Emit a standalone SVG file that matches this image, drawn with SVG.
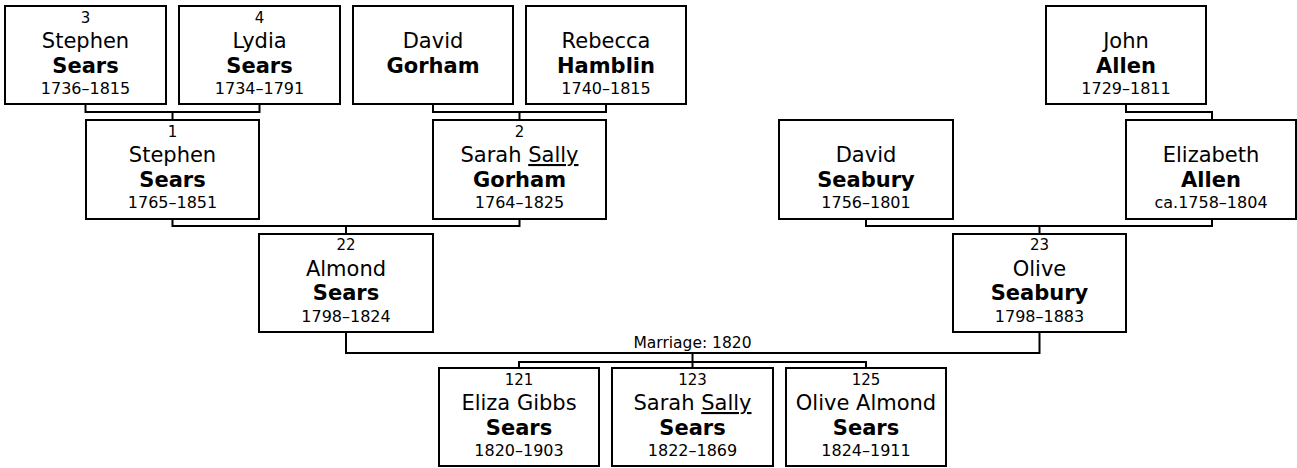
<svg xmlns="http://www.w3.org/2000/svg" width="1297" height="468" viewBox="0 0 1297 468">
<style>
.box{fill:#fff;stroke:#000;stroke-width:2}
.conn{fill:none;stroke:#000;stroke-width:2}
text{font-family:"DejaVu Sans",Verdana,sans-serif;fill:#000;text-anchor:middle}
.num{font-size:15px}
.given{font-size:21px}
.sur{font-size:21px;font-weight:bold}
.date{font-size:16px}
.lbl{font-size:15.5px}
</style>
<rect width="1297" height="468" fill="#fff"/>
<g id="connectors">
<path class="conn" d="M85.5,104 V112 H259.5 V104 M172.5,112 V120"/>
<path class="conn" d="M433,104 V112 H606 V104 M519.5,112 V120"/>
<path class="conn" d="M1126,104 V112 H1212 V120"/>
<path class="conn" d="M172.5,219 V226 H519.5 V219 M346,226 V234"/>
<path class="conn" d="M866,219 V226 H1212 V219 M1039.5,226 V234"/>
<path class="conn" d="M346,332 V353 H1039.5 V332 M692.5,353 V368 M519,368 V362 H866 V368"/>
<text class="lbl" x="692.5" y="348">Marriage: 1820</text>
</g>
<g id="p3">
<rect class="box" x="5" y="6" width="161" height="98"/>
<text class="num" x="85.5" y="22.5">3</text>
<text class="given" x="85.5" y="48">Stephen</text>
<text class="sur" x="85.5" y="72.5">Sears</text>
<text class="date" x="85.5" y="94">1736–1815</text>
</g>
<g id="p4">
<rect class="box" x="179" y="6" width="161" height="98"/>
<text class="num" x="259.5" y="22.5">4</text>
<text class="given" x="259.5" y="48">Lydia</text>
<text class="sur" x="259.5" y="72.5">Sears</text>
<text class="date" x="259.5" y="94">1734–1791</text>
</g>
<g id="pDavidGorham">
<rect class="box" x="353" y="6" width="160" height="98"/>
<text class="given" x="433" y="48">David</text>
<text class="sur" x="433" y="72.5">Gorham</text>
</g>
<g id="pRebeccaHamblin">
<rect class="box" x="526" y="6" width="160" height="98"/>
<text class="given" x="606" y="48">Rebecca</text>
<text class="sur" x="606" y="72.5">Hamblin</text>
<text class="date" x="606" y="94">1740–1815</text>
</g>
<g id="pJohnAllen">
<rect class="box" x="1046" y="6" width="160" height="98"/>
<text class="given" x="1126" y="48">John</text>
<text class="sur" x="1126" y="72.5">Allen</text>
<text class="date" x="1126" y="94">1729–1811</text>
</g>
<g id="p1">
<rect class="box" x="86" y="120" width="173" height="99"/>
<text class="num" x="172.5" y="136.5">1</text>
<text class="given" x="172.5" y="162">Stephen</text>
<text class="sur" x="172.5" y="186.5">Sears</text>
<text class="date" x="172.5" y="208">1765–1851</text>
</g>
<g id="p2">
<rect class="box" x="433" y="120" width="173" height="99"/>
<text class="num" x="519.5" y="136.5">2</text>
<text class="given" x="519.5" y="162">Sarah <tspan text-decoration="underline">Sally</tspan></text>
<text class="sur" x="519.5" y="186.5">Gorham</text>
<text class="date" x="519.5" y="208">1764–1825</text>
</g>
<g id="pDavidSeabury">
<rect class="box" x="779" y="120" width="174" height="99"/>
<text class="given" x="866" y="162">David</text>
<text class="sur" x="866" y="186.5">Seabury</text>
<text class="date" x="866" y="208">1756–1801</text>
</g>
<g id="pElizabethAllen">
<rect class="box" x="1126" y="120" width="170" height="99"/>
<text class="given" x="1211" y="162">Elizabeth</text>
<text class="sur" x="1211" y="186.5">Allen</text>
<text class="date" x="1211" y="208">ca.1758–1804</text>
</g>
<g id="p22">
<rect class="box" x="259" y="234" width="174" height="98"/>
<text class="num" x="346" y="250">22</text>
<text class="given" x="346" y="276">Almond</text>
<text class="sur" x="346" y="300">Sears</text>
<text class="date" x="346" y="322">1798–1824</text>
</g>
<g id="p23">
<rect class="box" x="953" y="234" width="173" height="98"/>
<text class="num" x="1039.5" y="250">23</text>
<text class="given" x="1039.5" y="276">Olive</text>
<text class="sur" x="1039.5" y="300">Seabury</text>
<text class="date" x="1039.5" y="322">1798–1883</text>
</g>
<g id="p121">
<rect class="box" x="439" y="368" width="160" height="98"/>
<text class="num" x="519" y="385">121</text>
<text class="given" x="519" y="410">Eliza Gibbs</text>
<text class="sur" x="519" y="434.5">Sears</text>
<text class="date" x="519" y="456">1820–1903</text>
</g>
<g id="p123">
<rect class="box" x="612" y="368" width="161" height="98"/>
<text class="num" x="692.5" y="385">123</text>
<text class="given" x="692.5" y="410">Sarah <tspan text-decoration="underline">Sally</tspan></text>
<text class="sur" x="692.5" y="434.5">Sears</text>
<text class="date" x="692.5" y="456">1822–1869</text>
</g>
<g id="p125">
<rect class="box" x="786" y="368" width="160" height="98"/>
<text class="num" x="866" y="385">125</text>
<text class="given" x="866" y="410">Olive Almond</text>
<text class="sur" x="866" y="434.5">Sears</text>
<text class="date" x="866" y="456">1824–1911</text>
</g>
</svg>
